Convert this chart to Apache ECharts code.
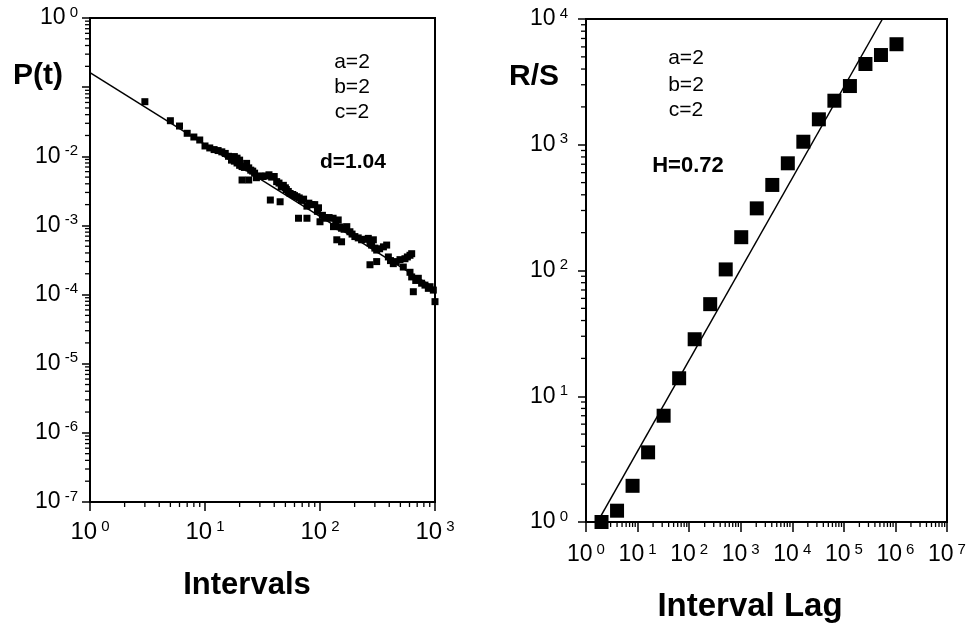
<!DOCTYPE html>
<html>
<head>
<meta charset="utf-8">
<script src="https://cdn.jsdelivr.net/npm/echarts@6/dist/echarts.min.js"></script>
<style>
html,body{margin:0;padding:0;background:#fff;}
#chart{width:972px;height:627px;}
</style>
</head>
<body>
<div id="chart"></div>
<script>
// ---- Left panel: interval distribution P(t) ----
const intervalsX = [3,5,6,7,8,9,10,11,12,13,14,15,16,17,17,18,18,19,19,20,20,21,21,22,23,24,24,25,26,27,28,30,32,34,36,37,38,40,42,44,45,46,48,50,51,53,55,58,60,63,65,66,69,72,77,77,80,85,90,95,97,100,105,110,114,120,130,131,137,140,144,150,154,154,162,171,182,190,201,215,230,245,263,272,272,281,291,300,311,311,330,356,380,393,410,434,460,496,530,548,575,606,606,627,627,648,680,716,765,818,875,905,967,1000];
const probY = [0.0616,0.0327,0.0274,0.0215,0.0190,0.0172,0.0141,0.0132,0.0125,0.0121,0.0116,0.0110,0.0100,0.0097,0.0088,0.0085,0.0099,0.0080,0.0094,0.0074,0.0088,0.0071,0.00454,0.0069,0.0079,0.0068,0.00454,0.0063,0.0061,0.0057,0.0049,0.0052,0.0051,0.0052,0.0054,0.00233,0.0050,0.0051,0.0043,0.0041,0.0022,0.0036,0.0038,0.0035,0.0033,0.0031,0.0029,0.0028,0.0027,0.0026,0.00127,0.0025,0.0023,0.0024,0.00127,0.0019,0.0021,0.0020,0.0020,0.0016,0.0018,0.00113,0.0014,0.0013,0.00127,0.0013,0.00127,0.00096,0.0011,0.00062,0.0012,0.00095,0.00091,0.00058,0.00088,0.00096,0.00081,0.00075,0.00069,0.00066,0.00062,0.00063,0.00065,0.00056,0.00027,0.00052,0.00062,0.00047,0.00044,0.00030,0.00046,0.00049,0.00052,0.00035,0.00031,0.00028,0.00030,0.00032,0.00025,0.00033,0.00035,0.00037,0.00021,0.00039,0.00018,0.00011,0.00016,0.000172,0.000146,0.000137,0.000123,0.00013,0.000116,0.000079];
const fitLeftX = [1, 1000];
const fitLeftY = [0.162, 0.000123];

// ---- Right panel: R/S analysis ----
const lagX = [2,4,8,16,32,64,128,256,512,1024,2048,4096,8192,16384,32768,65536,131072,262144,524288,1048576];
const rsY = [1.0,1.23,1.94,3.58,7.0,13.9,28.4,54,102,184,312,479,712,1057,1593,2240,2930,4385,5170,6300];
const fitRightX = [1.9, 560000];
const fitRightY = [1.1, 10000];

// annotation texts
const leftParams = ['a=2','b=2','c=2'];
const leftSlope = 'd=1.04';
const rightParams = ['a=2','b=2','c=2'];
const rightSlope = 'H=0.72';
// decade labels hidden on the left y axis (room for the P(t) title)
const leftYHiddenExp = [-1];

// minor log tick multipliers
const minorMult = [2,3,4,5,6,7,8,9];
function minorTicks(eMin, eMax){
  const out = [];
  for (let e = eMin; e < eMax; e++) for (const m of minorMult) out.push(m * Math.pow(10, e));
  return out;
}

const FONT = "'Liberation Sans', Arial, Helvetica, sans-serif";
const zip = (a, b) => a.map((v, i) => [v, b[i]]);

function labelFmt(v){
  const e = Math.round(Math.log10(v));
  return '{b|10}{s|' + e + '}';
}
function leftYFmt(v){
  const e = Math.round(Math.log10(v));
  if (leftYHiddenExp.indexOf(e) >= 0) return '';
  return '{b|10}{s|' + e + '}';
}
function richFor(size, sup){
  return {
    b: {fontSize: size, fontFamily: FONT, color: '#000', lineHeight: size + 3},
    s: {fontSize: sup, fontFamily: FONT, color: '#000', verticalAlign: 'top', lineHeight: sup, padding: [0,0,0,4]}
  };
}

function tickSeries(xi, yi, values, dir, len, fixedOther){
  return {
    type: 'custom', xAxisIndex: xi, yAxisIndex: yi, silent: true, clip: false, z: 5,
    data: values.map(v => dir === 'x' ? [v, fixedOther] : [fixedOther, v]),
    renderItem: function(params, api){
      const p = api.coord([api.value(0), api.value(1)]);
      const shape = dir === 'x'
        ? {x1: p[0], y1: p[1], x2: p[0], y2: p[1] + len}
        : {x1: p[0], y1: p[1], x2: p[0] - len, y2: p[1]};
      return {type: 'line', shape: shape, style: {stroke: '#000', lineWidth: 1.3}};
    }
  };
}

const chart = echarts.init(document.getElementById('chart'), null, {renderer: 'canvas'});

const option = {
  backgroundColor: '#fff',
  animation: false,
  grid: [
    {left: 90, top: 18, width: 345, height: 484, show: true, borderColor: '#000', borderWidth: 2, backgroundColor: 'transparent'},
    {left: 586, top: 19, width: 361, height: 503, show: true, borderColor: '#000', borderWidth: 2, backgroundColor: 'transparent'}
  ],
  xAxis: [
    {type: 'log', logBase: 10, gridIndex: 0, min: 1, max: 1000, interval: 1,
     axisLine: {lineStyle: {color: '#000', width: 2}},
     axisTick: {show: true, inside: false, length: 9, lineStyle: {color: '#000', width: 1.5}},
     splitLine: {show: false},
     axisLabel: {formatter: labelFmt, rich: richFor(24, 15), margin: 17, showMinLabel: true, showMaxLabel: true}},
    {type: 'log', logBase: 10, gridIndex: 1, min: 1, max: 10000000, interval: 1,
     axisLine: {lineStyle: {color: '#000', width: 2}},
     axisTick: {show: true, inside: false, length: 10, lineStyle: {color: '#000', width: 1.5}},
     splitLine: {show: false},
     axisLabel: {formatter: labelFmt, rich: richFor(23, 15), margin: 20, interval: 0, hideOverlap: false, showMinLabel: true, showMaxLabel: true}}
  ],
  yAxis: [
    {type: 'log', logBase: 10, gridIndex: 0, min: 1e-7, max: 1, interval: 1,
     axisLine: {lineStyle: {color: '#000', width: 2}},
     axisTick: {show: true, inside: false, length: 8, lineStyle: {color: '#000', width: 1.5}},
     splitLine: {show: false},
     axisLabel: {formatter: leftYFmt, rich: richFor(23, 15), margin: 12, showMinLabel: true, showMaxLabel: true}},
    {type: 'log', logBase: 10, gridIndex: 1, min: 1, max: 10000, interval: 1,
     axisLine: {lineStyle: {color: '#000', width: 2}},
     axisTick: {show: true, inside: false, length: 8, lineStyle: {color: '#000', width: 1.5}},
     splitLine: {show: false},
     axisLabel: {formatter: labelFmt, rich: richFor(23, 15), margin: 18, showMinLabel: true, showMaxLabel: true}}
  ],
  series: [
    {type: 'line', xAxisIndex: 0, yAxisIndex: 0, data: zip(fitLeftX, fitLeftY), symbol: 'none',
     lineStyle: {color: '#000', width: 1.5}, z: 3, clip: true},
    {type: 'scatter', xAxisIndex: 0, yAxisIndex: 0, data: zip(intervalsX, probY), symbol: 'rect', symbolSize: 7,
     itemStyle: {color: '#000', opacity: 1}, z: 4},
    {type: 'line', xAxisIndex: 1, yAxisIndex: 1, data: zip(fitRightX, fitRightY), symbol: 'none',
     lineStyle: {color: '#000', width: 1.5}, z: 3, clip: true},
    {type: 'scatter', xAxisIndex: 1, yAxisIndex: 1, data: zip(lagX, rsY), symbol: 'rect', symbolSize: 14,
     itemStyle: {color: '#000', opacity: 1}, z: 4},
    tickSeries(0, 0, minorTicks(0, 3), 'x', 5, 1e-7),
    tickSeries(0, 0, minorTicks(-7, 0), 'y', 5, 1),
    tickSeries(1, 1, minorTicks(0, 7), 'x', 5, 1),
    tickSeries(1, 1, minorTicks(0, 4), 'y', 5, 1)
  ],
  graphic: [
    {type: 'text', x: 38, y: 76, style: {text: 'P(t)', fontSize: 30, fontWeight: 'bold', fontFamily: FONT, fill: '#000', align: 'center', verticalAlign: 'middle'}},
    {type: 'text', x: 534, y: 77, style: {text: 'R/S', fontSize: 30, fontWeight: 'bold', fontFamily: FONT, fill: '#000', align: 'center', verticalAlign: 'middle'}},
    {type: 'text', x: 247, y: 585, style: {text: 'Intervals', fontSize: 31, fontWeight: 'bold', fontFamily: FONT, fill: '#000', align: 'center', verticalAlign: 'middle'}},
    {type: 'text', x: 750, y: 607, style: {text: 'Interval Lag', fontSize: 33, fontWeight: 'bold', fontFamily: FONT, fill: '#000', align: 'center', verticalAlign: 'middle'}},
    {type: 'text', x: 352, y: 62, style: {text: leftParams[0], fontSize: 21, fontFamily: FONT, fill: '#000', align: 'center', verticalAlign: 'middle'}},
    {type: 'text', x: 352, y: 87, style: {text: leftParams[1], fontSize: 21, fontFamily: FONT, fill: '#000', align: 'center', verticalAlign: 'middle'}},
    {type: 'text', x: 352, y: 112, style: {text: leftParams[2], fontSize: 21, fontFamily: FONT, fill: '#000', align: 'center', verticalAlign: 'middle'}},
    {type: 'text', x: 353, y: 162, style: {text: leftSlope, fontSize: 21, fontWeight: 'bold', fontFamily: FONT, fill: '#000', align: 'center', verticalAlign: 'middle'}},
    {type: 'text', x: 686, y: 58, style: {text: rightParams[0], fontSize: 21, fontFamily: FONT, fill: '#000', align: 'center', verticalAlign: 'middle'}},
    {type: 'text', x: 686, y: 85, style: {text: rightParams[1], fontSize: 21, fontFamily: FONT, fill: '#000', align: 'center', verticalAlign: 'middle'}},
    {type: 'text', x: 686, y: 110, style: {text: rightParams[2], fontSize: 21, fontFamily: FONT, fill: '#000', align: 'center', verticalAlign: 'middle'}},
    {type: 'text', x: 688, y: 166, style: {text: rightSlope, fontSize: 22, fontWeight: 'bold', fontFamily: FONT, fill: '#000', align: 'center', verticalAlign: 'middle'}}
  ]
};
chart.setOption(option);
</script>
</body>
</html>
